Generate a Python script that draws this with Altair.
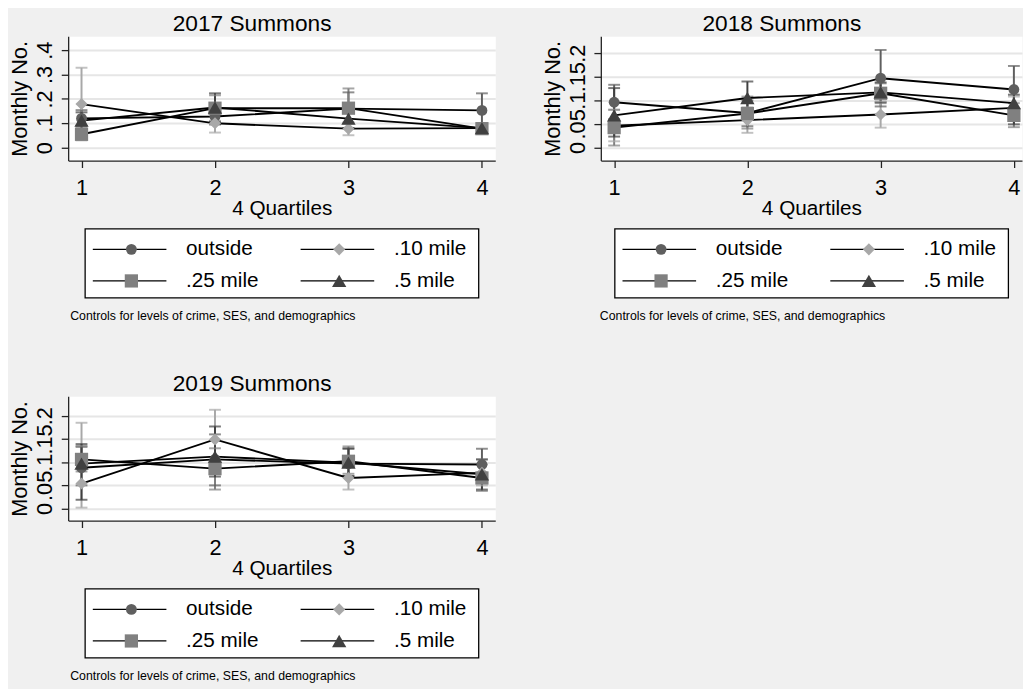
import altair as alt
import pandas as pd

# ---------------- data ----------------
SERIES = ["outside", ".10 mile", ".25 mile", ".5 mile"]
QUARTILES = [1, 2, 3, 4]
X_TITLE = "4 Quartiles"
Y_TITLE = "Monthly No."
NOTE = "Controls for levels of crime, SES, and demographics"

# 2017 Summons: point estimates and CI bounds per series
EST17_OUT = [0.120, 0.128, 0.160, 0.153]
EST17_10 = [0.179, 0.100, 0.078, 0.080]
EST17_25 = [0.055, 0.162, 0.162, 0.078]
EST17_5 = [0.111, 0.165, 0.119, 0.080]
LO17_OUT = [0.088, 0.095, 0.100, 0.085]
HI17_OUT = [0.154, 0.160, 0.227, 0.223]
LO17_10 = [0.030, 0.062, 0.051, 0.062]
HI17_10 = [0.328, 0.140, 0.105, 0.100]
LO17_25 = [0.035, 0.110, 0.080, 0.062]
HI17_25 = [0.080, 0.215, 0.243, 0.095]
LO17_5 = [0.075, 0.105, 0.080, 0.062]
HI17_5 = [0.145, 0.223, 0.160, 0.098]

# 2018 Summons
EST18_OUT = [0.096, 0.073, 0.147, 0.123]
EST18_10 = [0.046, 0.058, 0.070, 0.084]
EST18_25 = [0.042, 0.072, 0.115, 0.068]
EST18_5 = [0.068, 0.105, 0.117, 0.094]
LO18_OUT = [0.060, 0.045, 0.087, 0.073]
HI18_OUT = [0.133, 0.100, 0.207, 0.173]
LO18_10 = [0.013, 0.031, 0.042, 0.060]
HI18_10 = [0.080, 0.085, 0.098, 0.108]
LO18_25 = [0.004, 0.040, 0.094, 0.043]
HI18_25 = [0.080, 0.108, 0.136, 0.094]
LO18_5 = [0.023, 0.068, 0.096, 0.049]
HI18_5 = [0.126, 0.140, 0.138, 0.112]

# 2019 Summons
EST19_OUT = [0.088, 0.106, 0.097, 0.095]
EST19_10 = [0.054, 0.149, 0.066, 0.077]
EST19_25 = [0.106, 0.086, 0.102, 0.066]
EST19_5 = [0.097, 0.112, 0.099, 0.074]
LO19_OUT = [0.050, 0.050, 0.070, 0.065]
HI19_OUT = [0.133, 0.160, 0.130, 0.129]
LO19_10 = [0.002, 0.085, 0.041, 0.050]
HI19_10 = [0.185, 0.213, 0.092, 0.106]
LO19_25 = [0.080, 0.041, 0.075, 0.038]
HI19_25 = [0.135, 0.130, 0.134, 0.095]
LO19_5 = [0.019, 0.069, 0.070, 0.041]
HI19_5 = [0.139, 0.177, 0.129, 0.106]

Y_TICKS_17 = [0, 0.1, 0.2, 0.3, 0.4]
Y_TICKS_1819 = [0, 0.05, 0.1, 0.15, 0.2]

# ---------------- styles ----------------
FONT = "Liberation Sans"
BG = "#f0f0f0"
COLORS = ["#5f5f5f", "#a8a8a8", "#808080", "#404040"]
SHAPES = ["circle", "diamond", "square", "triangle-up"]
SIZES = [121, 210, 110, 144]
LEG_SIZES = [90, 200, 100, 120]

color_scale = alt.Scale(domain=SERIES, range=COLORS)
shape_scale = alt.Scale(domain=SERIES, range=SHAPES)
size_scale = alt.Scale(domain=SERIES, range=SIZES)


def frame(est, lo, hi):
    rows = []
    for si, s in enumerate(SERIES):
        for qi, q in enumerate(QUARTILES):
            rows.append({"series": s, "order": si, "q": q,
                         "est": est[si][qi], "lo": lo[si][qi], "hi": hi[si][qi]})
    return pd.DataFrame(rows)


def make_plot(title, df, ydom, yticks, width, xdom):
    xs = alt.Scale(domain=xdom, nice=False, zero=False)
    ys = alt.Scale(domain=ydom, nice=False, zero=False)
    xaxis = alt.Axis(values=QUARTILES, format="d", title=X_TITLE, grid=False,
                     tickSize=7, labelPadding=10, titlePadding=0,
                     labelFontSize=22, titleFontSize=21, labelFlush=False)
    yaxis = alt.Axis(values=yticks, title=Y_TITLE, tickSize=7, labelPadding=5,
                     titlePadding=2, labelAngle=270, labelOverlap=False,
                     labelFlush=False, labelBound=False, tickCount=len(yticks),
                     labelFontSize=22, titleFontSize=22,
                     labelExpr="datum.value == 0 ? '0' : substring(format(datum.value, '.2~f'), 1)")
    base = alt.Chart(df)
    x = alt.X("q:Q", scale=xs, axis=xaxis)
    col = alt.Color("series:N", scale=color_scale, legend=None)
    stems = base.mark_rule(strokeWidth=2).encode(
        x=x, y=alt.Y("lo:Q", scale=ys, axis=yaxis), y2="hi:Q", color=col)
    cap_lo = base.mark_tick(orient="horizontal", size=12, thickness=2).encode(
        x=x, y=alt.Y("lo:Q", scale=ys, axis=yaxis), color=col)
    cap_hi = base.mark_tick(orient="horizontal", size=12, thickness=2).encode(
        x=x, y=alt.Y("hi:Q", scale=ys, axis=yaxis), color=col)
    lines = base.mark_line(color="black", strokeWidth=1.9).encode(
        x=x, y=alt.Y("est:Q", scale=ys, axis=yaxis),
        detail="series:N", order="q:Q")
    pts = base.mark_point(filled=True, opacity=1).encode(
        x=x, y=alt.Y("est:Q", scale=ys, axis=yaxis),
        color=col,
        shape=alt.Shape("series:N", scale=shape_scale, legend=None),
        size=alt.Size("series:N", scale=size_scale, legend=None))
    return alt.layer(stems, cap_lo, cap_hi, lines, pts).properties(
        width=width, height=126,
        title=alt.TitleParams(title, fontSize=23, fontWeight="normal",
                              font=FONT, color="black", offset=0,
                              anchor="middle", frame="bounds"))


# legend layout (fractions of the legend box)
LEG_COL = [0, 1, 0, 1]
LEG_ROW = [0, 0, 1, 1]
COL_STEP = 0.528
LINE_START, LINE_END, MARK_X, LABEL_X = 0.020, 0.207, 0.118, 0.257
ROW_Y = [0.70, 0.243]


def make_legend():
    rows = []
    for i, s in enumerate(SERIES):
        off = LEG_COL[i] * COL_STEP
        rows.append({"series": s, "x0": LINE_START + off, "x1": LINE_END + off,
                     "xm": MARK_X + off, "xl": LABEL_X + off, "y": ROW_Y[LEG_ROW[i]]})
    ld = pd.DataFrame(rows)
    xs = alt.Scale(domain=[0, 1], nice=False, zero=False)
    ys = alt.Scale(domain=[0, 1], nice=False, zero=False)
    b = alt.Chart(ld)
    rules = b.mark_rule(color="black", strokeWidth=1.3).encode(
        x=alt.X("x0:Q", scale=xs, axis=None), x2="x1:Q",
        y=alt.Y("y:Q", scale=ys, axis=None))
    pts = b.mark_point(filled=True, opacity=1).encode(
        x=alt.X("xm:Q", scale=xs, axis=None), y=alt.Y("y:Q", scale=ys, axis=None),
        color=alt.Color("series:N", scale=color_scale, legend=None),
        shape=alt.Shape("series:N", scale=shape_scale, legend=None),
        size=alt.Size("series:N", scale=alt.Scale(domain=SERIES, range=LEG_SIZES), legend=None))
    txt = b.mark_text(align="left", baseline="middle", fontSize=21, font=FONT,
                      color="black").encode(
        x=alt.X("xl:Q", scale=xs, axis=None), y=alt.Y("y:Q", scale=ys, axis=None),
        text="series:N")
    return alt.layer(rules, pts, txt).properties(
        width=399, height=70,
        view=alt.ViewBackground(fill="white", stroke="black", strokeWidth=1.3),
        title=alt.TitleParams(NOTE, orient="bottom", anchor="start", fontSize=12.5,
                              fontWeight="normal", font=FONT, color="black",
                              dx=-15, offset=13))


def block(plot):
    return alt.vconcat(plot, make_legend(), spacing=69, bounds="flush", center=True)


df17 = frame([EST17_OUT, EST17_10, EST17_25, EST17_5],
             [LO17_OUT, LO17_10, LO17_25, LO17_5],
             [HI17_OUT, HI17_10, HI17_25, HI17_5])
df18 = frame([EST18_OUT, EST18_10, EST18_25, EST18_5],
             [LO18_OUT, LO18_10, LO18_25, LO18_5],
             [HI18_OUT, HI18_10, HI18_25, HI18_5])
df19 = frame([EST19_OUT, EST19_10, EST19_25, EST19_5],
             [LO19_OUT, LO19_10, LO19_25, LO19_5],
             [HI19_OUT, HI19_10, HI19_25, HI19_5])

p17 = make_plot("2017 Summons", df17, [-0.053, 0.457], Y_TICKS_17, 433, [0.9, 4.1])
p18 = make_plot("2018 Summons", df18, [-0.028, 0.236], Y_TICKS_1819, 427, [0.9, 4.061])
p19 = make_plot("2019 Summons", df19, [-0.026, 0.242], Y_TICKS_1819, 433, [0.9, 4.1])

chart = alt.vconcat(
    alt.hconcat(block(p17), block(p18), spacing=45),
    block(p19),
    spacing=49,
).properties(
    padding={"left": 0, "top": 0, "right": 0, "bottom": 0}, background=BG
).configure_view(
    fill="white", stroke="transparent"
).configure_axis(
    labelFont=FONT, titleFont=FONT, labelColor="black", titleColor="black",
    titleFontWeight="normal", domainColor="#222222", domainWidth=1.3,
    tickColor="#222222", tickWidth=1.3, gridColor="#e6e6e6", gridWidth=2
)

chart.save("out.html", embed_options={"renderer": "svg", "actions": False})
